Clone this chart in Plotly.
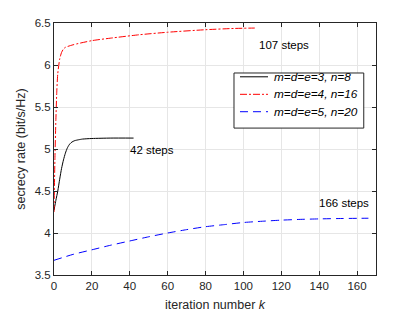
import plotly.graph_objects as go

# Data
k_black = [0, 1, 2, 3, 4, 5, 6, 7, 8, 9, 10, 11, 13, 15, 20, 30, 42]
r_black = [4.27, 4.39, 4.50, 4.64, 4.77, 4.87, 4.95, 5.01, 5.05, 5.075, 5.09, 5.10, 5.11, 5.118, 5.125, 5.13, 5.13]

k_red = [0, 0.5, 1, 1.5, 2, 3, 4, 5, 6, 10, 20, 30, 45, 60, 80, 95, 106]
r_red = [4.25, 4.9, 5.35, 5.7, 5.9, 6.07, 6.15, 6.19, 6.21, 6.24, 6.29, 6.32, 6.36, 6.39, 6.42, 6.435, 6.44]

k_blue = [0, 10, 20, 30, 40, 50, 60, 70, 80, 90, 100, 110, 120, 130, 140, 150, 166]
r_blue = [3.675, 3.745, 3.80, 3.855, 3.905, 3.955, 4.0, 4.04, 4.075, 4.10, 4.125, 4.14, 4.153, 4.162, 4.168, 4.172, 4.176]

names = ["m=d=e=3, n=8", "m=d=e=4, n=16", "m=d=e=5, n=20"]
colors = ["black", "#ff0000", "#0000ff"]
dashes = ["solid", "7px,2px,2px,2px", "8px,5px"]

ann_text = ["107 steps", "42 steps", "166 steps"]
ann_x = [121.5, 51.5, 153]
ann_y = [6.24, 4.99, 4.36]

font = "Liberation Sans, Arial, sans-serif"

fig = go.Figure()
for kx, ry, nm, c, d in zip([k_black, k_red, k_blue], [r_black, r_red, r_blue], names, colors, dashes):
    fig.add_trace(go.Scatter(x=kx, y=ry, mode="lines", name=nm, showlegend=False,
                             line=dict(color=c, width=1, dash=d, shape="spline", smoothing=0.6)))

for t, x, y in zip(ann_text, ann_x, ann_y):
    fig.add_annotation(x=x, y=y, text=t, showarrow=False,
                       font=dict(family=font, size=11.5, color="black"))

# legend box drawn in paper coordinates
lx0, lx1, ly0, ly1 = 0.559, 0.962, 0.583, 0.8016
fig.add_shape(type="rect", xref="paper", yref="paper", x0=lx0, x1=lx1, y0=ly0, y1=ly1,
              line=dict(color="#262626", width=1), fillcolor="white", layer="above")
row_y = [0.7865, 0.7170, 0.6480]
for nm, c, d, ry in zip(names, colors, dashes, row_y):
    fig.add_shape(type="line", xref="paper", yref="paper", x0=0.5776, x1=0.6646, y0=ry, y1=ry,
                  line=dict(color=c, width=1, dash=d), layer="above")
    fig.add_annotation(xref="paper", yref="paper", x=0.679, y=ry, xanchor="left", yanchor="middle",
                       text="<i>" + nm + "</i>", showarrow=False, borderpad=0,
                       font=dict(family=font, size=11.8, color="black"))

axis_common = dict(showgrid=True, gridcolor="#e6e6e6", gridwidth=1,
                   showline=True, linecolor="#262626", linewidth=1, mirror="ticks",
                   ticks="inside", ticklen=4, tickcolor="#262626", automargin=False,
                   tickfont=dict(family=font, size=11.5, color="#262626"), zeroline=False)

fig.update_layout(
    width=415, height=312,
    margin=dict(l=54, r=39, t=23, b=37),
    paper_bgcolor="white", plot_bgcolor="white",
    font=dict(family=font, color="#262626"),
    xaxis=dict(range=[0, 170], dtick=20, tick0=0,
               title=dict(text="iteration number <i>k</i>", font=dict(size=12.5, family=font), standoff=9),
               **axis_common),
    yaxis=dict(range=[3.5, 6.5], dtick=0.5, tick0=3.5,
               title=dict(text="secrecy rate (bit/s/Hz)", font=dict(size=12.5, family=font), standoff=6),
               **axis_common),
    showlegend=False,
)

fig.write_html("out.html", config={"displayModeBar": False},
               post_script="document.body.style.margin='0';document.body.style.overflow='hidden';")
